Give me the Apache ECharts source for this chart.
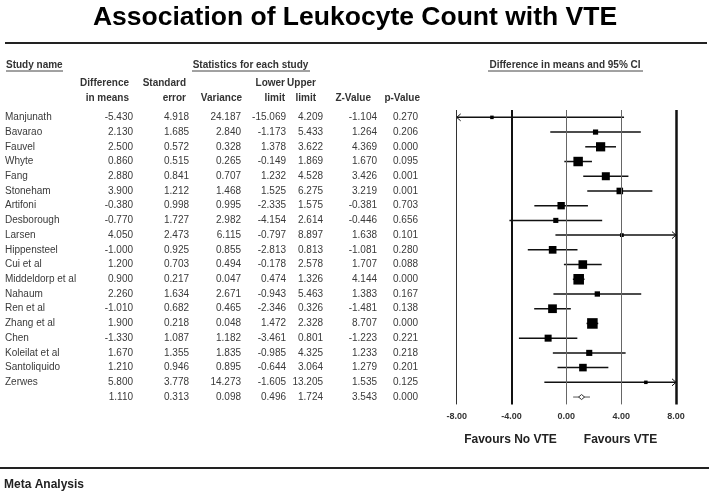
<!DOCTYPE html>
<html><head><meta charset="utf-8">
<script src="https://cdn.jsdelivr.net/npm/echarts@6/dist/echarts.min.js"></script>
<style>html,body{margin:0;padding:0;background:#fff}#c{width:714px;height:497px}</style>
</head><body><div id="c"></div>
<script>
const studies = ['Manjunath','Bavarao','Fauvel','Whyte','Fang','Stoneham','Artifoni','Desborough','Larsen','Hippensteel','Cui et al','Middeldorp et al','Nahaum','Ren et al','Zhang et al','Chen','Koleilat et al','Santoliquido','Zerwes',''];
const diffMeans  = [-5.430,2.130,2.500,0.860,2.880,3.900,-0.380,-0.770,4.050,-1.000,1.200,0.900,2.260,-1.010,1.900,-1.330,1.670,1.210,5.800,1.110];
const stdError   = [4.918,1.685,0.572,0.515,0.841,1.212,0.998,1.727,2.473,0.925,0.703,0.217,1.634,0.682,0.218,1.087,1.355,0.946,3.778,0.313];
const variance   = [24.187,2.840,0.328,0.265,0.707,1.468,0.995,2.982,6.115,0.855,0.494,0.047,2.671,0.465,0.048,1.182,1.835,0.895,14.273,0.098];
const lowerLimit = [-15.069,-1.173,1.378,-0.149,1.232,1.525,-2.335,-4.154,-0.797,-2.813,-0.178,0.474,-0.943,-2.346,1.472,-3.461,-0.985,-0.644,-1.605,0.496];
const upperLimit = [4.209,5.433,3.622,1.869,4.528,6.275,1.575,2.614,8.897,0.813,2.578,1.326,5.463,0.326,2.328,0.801,4.325,3.064,13.205,1.724];
const zValue     = [-1.104,1.264,4.369,1.670,3.426,3.219,-0.381,-0.446,1.638,-1.081,1.707,4.144,1.383,-1.481,8.707,-1.223,1.233,1.279,1.535,3.543];
const pValue     = [0.270,0.206,0.000,0.095,0.001,0.001,0.703,0.656,0.101,0.280,0.088,0.000,0.167,0.138,0.000,0.221,0.218,0.201,0.125,0.000];
const xTicks = [-8, -4, 0, 4, 8];
const headerLine1 = ['Difference','Standard','','Lower','Upper','',''];
const headerLine2 = ['in means','error','Variance','limit','limit','Z-Value','p-Value'];

const FONT = '"Liberation Sans", Arial, sans-serif';
const summaryIndex = studies.length - 1;
const rows = studies.map((s, i) => [i, diffMeans[i], lowerLimit[i], upperLimit[i], variance[i], stdError[i], zValue[i], pValue[i]]);
const colRight = [133, 189, 241, 286, 323, 377, 418];
const headRight = [129, 186, 242, 285, 316, 371, 420];
const xMin = xTicks[0], xMax = xTicks[xTicks.length - 1];

const chart = echarts.init(document.getElementById('c'), null, {renderer: 'canvas'});

function tableItem(params, api) {
  const i = api.value(0);
  const y = api.coord([0, i])[1];
  const vals = [api.value(1), api.value(5), api.value(4), api.value(2), api.value(3), api.value(6), api.value(7)];
  const children = [{
    type: 'text', x: 5, y: y,
    style: {text: studies[i], font: '10px ' + FONT, fill: '#3a3a3a', align: 'left', verticalAlign: 'middle'}
  }];
  vals.forEach((v, k) => {
    children.push({
      type: 'text', x: colRight[k], y: y,
      style: {text: v.toFixed(3), font: '10px ' + FONT, fill: '#3a3a3a', align: 'right', verticalAlign: 'middle'}
    });
  });
  return {type: 'group', children: children};
}

function forestItem(params, api) {
  const i = api.value(0);
  const mean = api.value(1), lo = api.value(2), hi = api.value(3), v = api.value(4);
  const y = api.coord([0, i])[1];
  const xl = api.coord([Math.max(lo, xMin), i])[0];
  const xr = api.coord([Math.min(hi, xMax), i])[0];
  const xm = api.coord([mean, i])[0];
  const children = [];
  if (i === summaryIndex) {
    children.push({type: 'line', shape: {x1: xl, y1: y, x2: xr, y2: y}, style: {stroke: '#555', lineWidth: 1}});
    children.push({type: 'polygon', shape: {points: [[xm - 3, y], [xm, y - 2.5], [xm + 3, y], [xm, y + 2.5]]},
      style: {fill: '#fff', stroke: '#333', lineWidth: 1}});
    return {type: 'group', children: children};
  }
  children.push({type: 'line', shape: {x1: xl, y1: y, x2: xr, y2: y}, style: {stroke: '#111', lineWidth: 1.5}});
  if (lo < xMin) {
    children.push({type: 'polyline', shape: {points: [[xl + 4, y - 3.5], [xl, y], [xl + 4, y + 3.5]]}, style: {stroke: '#111', lineWidth: 1, fill: null}});
  }
  if (hi > xMax) {
    children.push({type: 'polyline', shape: {points: [[xr - 4, y - 3.5], [xr, y], [xr - 4, y + 3.5]]}, style: {stroke: '#111', lineWidth: 1, fill: null}});
  }
  const s = Math.max(3.5, 10 * Math.sqrt(1 / (v + 0.85)));
  children.push({type: 'rect', shape: {x: xm - s / 2, y: y - s / 2, width: s, height: s}, style: {fill: '#000'}});
  return {type: 'group', children: children};
}

const graphics = [
  {type: 'text', x: 355, y: 18, style: {text: 'Association of Leukocyte Count with VTE', font: 'bold 26.5px ' + FONT, fill: '#000', align: 'center', verticalAlign: 'middle'}},
  {type: 'line', shape: {x1: 5, y1: 43, x2: 707, y2: 43}, style: {stroke: '#222', lineWidth: 2}},
  {type: 'text', x: 6, y: 65, style: {text: 'Study name', font: 'bold 10px ' + FONT, fill: '#333', align: 'left', verticalAlign: 'middle'}},
  {type: 'line', shape: {x1: 6, y1: 71, x2: 63, y2: 71}, style: {stroke: '#444', lineWidth: 1}},
  {type: 'text', x: 250.5, y: 65, style: {text: 'Statistics for each study', font: 'bold 10px ' + FONT, fill: '#333', align: 'center', verticalAlign: 'middle'}},
  {type: 'line', shape: {x1: 192, y1: 71, x2: 310, y2: 71}, style: {stroke: '#444', lineWidth: 1}},
  {type: 'text', x: 565, y: 65, style: {text: 'Difference in means and 95% CI', font: 'bold 10px ' + FONT, fill: '#333', align: 'center', verticalAlign: 'middle'}},
  {type: 'line', shape: {x1: 488, y1: 71, x2: 643, y2: 71}, style: {stroke: '#444', lineWidth: 1}},
  {type: 'text', x: 510.5, y: 440, style: {text: 'Favours No VTE', font: 'bold 12px ' + FONT, fill: '#222', align: 'center', verticalAlign: 'middle'}},
  {type: 'text', x: 620.5, y: 440, style: {text: 'Favours VTE', font: 'bold 12px ' + FONT, fill: '#222', align: 'center', verticalAlign: 'middle'}},
  {type: 'line', shape: {x1: 0, y1: 468, x2: 709, y2: 468}, style: {stroke: '#222', lineWidth: 2}},
  {type: 'text', x: 4, y: 485, style: {text: 'Meta Analysis', font: 'bold 12px ' + FONT, fill: '#222', align: 'left', verticalAlign: 'middle'}}
];
headerLine1.forEach((t, k) => {
  if (t) graphics.push({type: 'text', x: headRight[k], y: 83, style: {text: t, font: 'bold 10px ' + FONT, fill: '#333', align: 'right', verticalAlign: 'middle'}});
});
headerLine2.forEach((t, k) => {
  graphics.push({type: 'text', x: headRight[k], y: 98, style: {text: t, font: 'bold 10px ' + FONT, fill: '#333', align: 'right', verticalAlign: 'middle'}});
});

const refLineStyles = [
  {width: 1, color: '#333'}, {width: 2, color: '#111'}, {width: 1, color: '#666'}, {width: 1, color: '#666'}, {width: 2.5, color: '#111'}
];

chart.setOption({
  animation: false,
  backgroundColor: '#fff',
  grid: {left: 456.7, right: 38, top: 110, height: 294.4, containLabel: false, outerBoundsMode: 'none'},
  xAxis: {
    type: 'value', min: xMin, max: xMax, interval: 4,
    axisLine: {show: false}, axisTick: {show: false}, splitLine: {show: false},
    axisLabel: {show: true, showMinLabel: true, showMaxLabel: true, margin: 8,
      formatter: v => v.toFixed(2), fontFamily: FONT, fontWeight: 'bold', fontSize: 9, color: '#333'}
  },
  yAxis: {type: 'category', data: studies.map((s, i) => String(i)), inverse: true, show: false},
  graphic: graphics,
  series: [
    {
      type: 'custom', renderItem: tableItem, data: rows, clip: false, silent: true,
      encode: {x: 1, y: 0}, z: 3
    },
    {
      type: 'custom', renderItem: forestItem, data: rows, clip: false, silent: true,
      encode: {x: [1, 2, 3], y: 0}, z: 4,
      markLine: {
        silent: true, symbol: 'none', label: {show: false},
        data: xTicks.map((t, k) => ({xAxis: t, lineStyle: {type: 'solid', width: refLineStyles[k].width, color: refLineStyles[k].color}}))
      }
    }
  ]
});
</script>
</body></html>
